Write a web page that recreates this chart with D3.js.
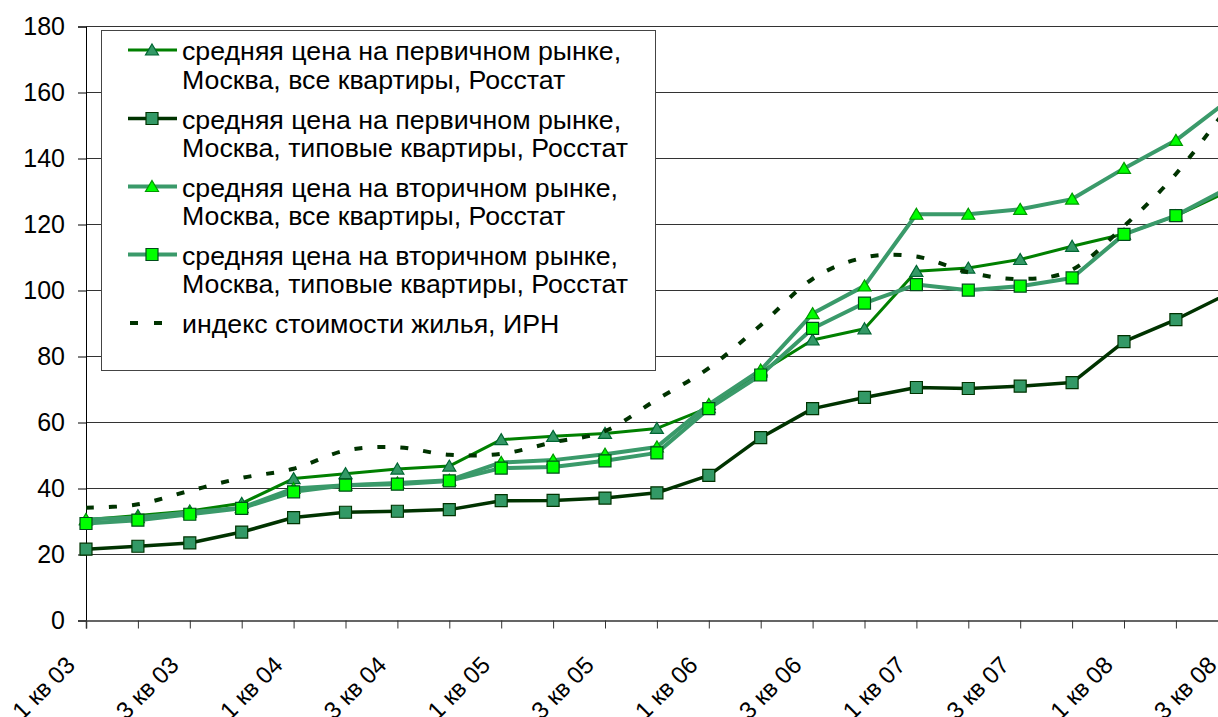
<!DOCTYPE html>
<html>
<head>
<meta charset="utf-8">
<script src="https://cdn.jsdelivr.net/npm/d3@7/dist/d3.min.js"></script>
<style>
  body { margin: 0; background: #fff; }
  svg { display: block; }
  text { font-family: Arial, "Liberation Sans", sans-serif; fill: #000; }
</style>
</head>
<body>
<svg id="chart" width="1218" height="717"></svg>
<script>
// кварталы 2003-2008 (последний, 3 кв 08, за правым краем картинки)
const categories = ["1 кв 03","2 кв 03","3 кв 03","4 кв 03","1 кв 04","2 кв 04","3 кв 04","4 кв 04",
  "1 кв 05","2 кв 05","3 кв 05","4 кв 05","1 кв 06","2 кв 06","3 кв 06","4 кв 06",
  "1 кв 07","2 кв 07","3 кв 07","4 кв 07","1 кв 08","2 кв 08","3 кв 08"];
const yTicks = [0, 20, 40, 60, 80, 100, 120, 140, 160, 180];

const primaryAll     = [30.5, 31.8, 33.2, 35.5, 43.0, 44.5, 45.9, 46.8, 54.8, 55.8, 56.7, 58.2, 64.5, 75.3, 85.0, 88.4, 105.8, 106.8, 109.4, 113.4, 117.1, 122.6, 130.0];
const primaryTypical = [21.6, 22.5, 23.5, 26.8, 31.2, 32.8, 33.1, 33.6, 36.3, 36.4, 37.1, 38.7, 44.0, 55.4, 64.2, 67.6, 70.6, 70.3, 71.0, 72.1, 84.5, 91.2, 99.0];
const secondaryAll   = [30.6, 31.2, 32.8, 34.2, 40.0, 41.0, 41.7, 42.5, 47.9, 48.6, 50.4, 52.6, 65.5, 75.9, 93.0, 101.4, 123.1, 123.1, 124.6, 127.7, 137.0, 145.5, 157.5];
const secondaryTypical = [29.4, 30.4, 32.2, 34.0, 39.0, 41.0, 41.3, 42.3, 46.2, 46.5, 48.4, 50.8, 64.2, 74.4, 88.5, 96.2, 101.8, 100.1, 101.3, 103.8, 117.0, 122.7, 131.0];
const housingIndex   = [34.2, 35.2, 39.3, 43.2, 46.0, 51.5, 52.5, 50.2, 50.5, 54.0, 57.4, 67.0, 76.5, 89.5, 103.5, 110.0, 110.3, 105.5, 103.5, 106.3, 119.5, 135.3, 155.6];

const seriesNames = [
  ["средняя цена на первичном рынке,", "Москва, все квартиры, Росстат"],
  ["средняя цена на первичном рынке,", "Москва, типовые квартиры, Росстат"],
  ["средняя цена на вторичном рынке,", "Москва, все квартиры, Росстат"],
  ["средняя цена на вторичном рынке,", "Москва, типовые квартиры, Росстат"],
  ["индекс стоимости жилья, ИРН"]
];

const series = [
  {values: primaryAll, line: "#008000", width: 3, marker: "tri", fill: "#339966", stroke: "#006633"},
  {values: primaryTypical, line: "#003300", width: 3.5, marker: "sq", fill: "#339966", stroke: "#003300"},
  {values: secondaryAll, line: "#3a9a6a", width: 4, marker: "tri", fill: "#00ff00", stroke: "#009900"},
  {values: secondaryTypical, line: "#3a9a6a", width: 4, marker: "sq", fill: "#00ff00", stroke: "#004d1a"},
  {values: housingIndex, line: "#003300", width: 4, marker: null, dash: "8,15", smooth: true}
];

const svg = d3.select("#chart");
const fontSize = 25;

const x = d3.scalePoint().domain(categories).range([86, 86 + 51.9 * (categories.length - 1)]);
const y = d3.scaleLinear().domain([0, 180]).range([620.5, 26.5]);

// сетка
svg.append("g")
  .selectAll("line")
  .data(yTicks.filter(d => d > 0))
  .join("line")
  .attr("x1", 86).attr("x2", 1218)
  .attr("y1", d => y(d)).attr("y2", d => y(d))
  .attr("stroke", "#333").attr("stroke-width", 1);

// ось Y
const yAxis = svg.append("g").attr("transform", "translate(86,0)")
  .call(d3.axisLeft(y).tickValues(yTicks).tickSize(8).tickPadding(13));
yAxis.select(".domain").attr("stroke", "#000");
yAxis.selectAll(".tick line").attr("stroke", "#000");
yAxis.selectAll(".tick text").attr("font-size", fontSize).attr("font-family", null).attr("fill", "#000");

// ось X
const xAxis = svg.append("g").attr("transform", "translate(0,620.5)")
  .call(d3.axisBottom(x).tickSize(8).tickFormat((d, i) => i % 2 === 0 ? d : ""));
xAxis.select(".domain").attr("stroke", "#333").attr("stroke-width", 1.5);
xAxis.selectAll(".tick line").attr("stroke", "#333");
xAxis.selectAll(".tick text")
  .attr("font-size", 24).attr("font-family", null).attr("fill", "#000")
  .attr("text-anchor", "end")
  .attr("dy", null).attr("y", 0)
  .attr("transform", "translate(-10,46) rotate(-45)");

const tri = "M0,-6L6.5,5L-6.5,5Z";
const sq = "M-6,-6H6V6H-6Z";

function drawSeries(g, s) {
  const line = d3.line()
    .x((d, i) => x(categories[i]))
    .y(d => y(d));
  if (s.smooth) line.curve(d3.curveCardinal.tension(0));
  g.append("path")
    .datum(s.values)
    .attr("d", line)
    .attr("fill", "none")
    .attr("stroke", s.line)
    .attr("stroke-width", s.width)
    .attr("stroke-dasharray", s.dash || null)
    .attr("stroke-linejoin", "round");
  if (s.marker) {
    g.selectAll("path.m")
      .data(s.values)
      .join("path")
      .attr("class", "m")
      .attr("d", s.marker === "tri" ? tri : sq)
      .attr("transform", (d, i) => `translate(${x(categories[i])},${y(d)})`)
      .attr("fill", s.fill)
      .attr("stroke", s.stroke)
      .attr("stroke-width", 1.2);
  }
}

const plot = svg.append("g");
series.forEach(s => drawSeries(plot.append("g"), s));

// легенда
const legend = svg.append("g");
legend.append("rect")
  .attr("x", 101.5).attr("y", 30.5).attr("width", 554).attr("height", 340)
  .attr("fill", "#fff").attr("stroke", "#444").attr("stroke-width", 1);

const entryY = [50, 118.5, 186.5, 254.5, 323];
series.forEach((s, k) => {
  const g = legend.append("g").attr("transform", `translate(0,${entryY[k]})`);
  if (s.dash) {
    g.append("line").attr("x1", 130).attr("x2", 170).attr("y1", 0).attr("y2", 0)
      .attr("stroke", s.line).attr("stroke-width", s.width).attr("stroke-dasharray", "8,16");
  } else {
    g.append("line").attr("x1", 128).attr("x2", 177).attr("y1", 0).attr("y2", 0)
      .attr("stroke", s.line).attr("stroke-width", s.width);
    g.append("path").attr("d", s.marker === "tri" ? tri : sq)
      .attr("transform", "translate(152,0)")
      .attr("fill", s.fill).attr("stroke", s.stroke).attr("stroke-width", 1.2);
  }
  const tg = g.append("g").attr("transform", "translate(182,0) scale(1.07,1)");
  seriesNames[k].forEach((t, j) => {
    tg.append("text")
      .attr("x", 0).attr("y", 10 + j * 28.7)
      .attr("font-size", fontSize)
      .text(t);
  });
});
</script>
</body>
</html>
